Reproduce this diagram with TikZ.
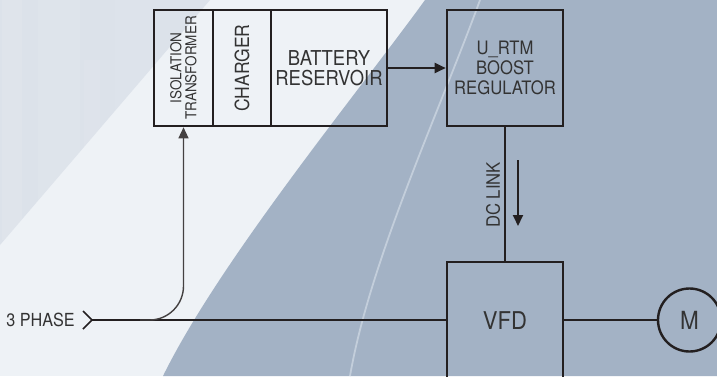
\documentclass[tikz,border=0pt]{standalone}
\usepackage{fontspec}
\setmainfont{TeX Gyre Heros}[FakeStretch=0.9]
\usetikzlibrary{arrows.meta}
\definecolor{bgdark}{HTML}{DCE2EA}
\definecolor{bglight}{HTML}{EEF2F6}
\definecolor{bgblue}{HTML}{A3B2C5}
\definecolor{streak}{HTML}{C3CEDB}
\definecolor{ink}{HTML}{231F20}
\definecolor{txt}{HTML}{333333}
\tikzset{
  cell/.style={draw=ink, line width=2.6pt, inner sep=0pt, minimum width=#1, minimum height=116pt},
  lbl/.style={text=txt, inner sep=0pt, align=center},
  conn/.style={draw=ink, line width=2pt},
  feed/.style={draw=ink!85, line width=1.4pt, -{Triangle[length=11pt,width=10pt]}, rounded corners=34pt},
  arr/.style={draw=ink, line width=1.8pt, -{Triangle[length=11pt,width=10pt]}},
}
\begin{document}
\begin{tikzpicture}[x=1pt,y=-1pt]
\clip (0,0) rectangle (717,376);
% background
\fill[bglight] (0,0) rectangle (717,376);
\fill[bgdark] (0,0) -- (210,0) -- (0,245) -- cycle;
\begin{scope}
\clip (0,0) -- (210,0) -- (0,245) -- cycle;
\fill[white,opacity=0.09] (2,0) rectangle (22,240);
\fill[white,opacity=0.07] (38,0) rectangle (80,200);
\fill[white,opacity=0.06] (84,60) rectangle (100,180);
\fill[white,opacity=0.05] (115,0) rectangle (150,120);
\end{scope}
\fill[bgblue] (425,0) .. controls (360,90) and (220,260) .. (163,376) -- (717,376) -- (717,0) -- cycle;
\draw[streak, line width=1.8pt] (480,0) .. controls (440,110) and (370,260) .. (350,376);
% battery reservoir block
\node[cell=59pt] (iso) at (183.5,68) {};
\node[cell=58pt] (chg) at (242,68) {};
\node[cell=116pt] (bat) at (329,68) {};
\node[lbl, rotate=90, font=\fontsize{15}{15}\selectfont] (isot) at (iso.center) {ISOLATION\\TRANSFORMER};
\node[lbl, rotate=90, font=\fontsize{19.5}{20}\selectfont] (chgt) at (chg.center) {CHARGER};
\node[lbl, font=\fontsize{20.5}{20}\selectfont] (batt) at (bat.center) {BATTERY\\RESERVOIR};
% boost regulator
\node[cell=116pt] (boost) at (505,68) {};
\node[lbl, font=\fontsize{18.5}{20}\selectfont] (boostt) at (505,68) {U\_RTM\\BOOST\\REGULATOR};
% VFD
\node[cell=116pt] (vfd) at (505,320) {};
\node[lbl, font=\fontsize{24.5}{24}\selectfont] (vfdt) at (505,321) {VFD};
% motor
\node[draw=ink, line width=2.4pt, circle, minimum size=63pt, inner sep=0pt] (mot) at (689.5,320) {};
\node[lbl, font=\fontsize{25}{25}\selectfont] (mott) at (mot.center) {M};
% 3 phase input
\node[lbl, anchor=east, font=\fontsize{18}{18}\selectfont] (ph) at (75,320) {3 PHASE};
\coordinate (tip) at (92,320);
\coordinate (cu) at (83,311);
\coordinate (cd) at (83,329);
\draw[ink, line width=1.6pt] (cu) -- (tip) -- (cd);
\coordinate (j) at (140,320);
% connectors
\draw[conn] (tip) -- (vfd.west);
\draw[feed] (j) -| (iso.south);
\draw[conn, -{Triangle[length=11pt,width=10pt]}] (bat.east) -- (boost.west);
\draw[conn, line width=2.2pt] (boost.south) -- (vfd.north);
\draw[conn] (vfd.east) -- (mot.west);
% DC link label and arrow
\node[lbl, rotate=90, font=\fontsize{18.5}{18.5}\selectfont] (dcl) at (493,195) {DC LINK};
\coordinate (a1) at (518,160);
\coordinate (a2) at (518,226);
\draw[arr] (a1) -- (a2);
\end{tikzpicture}
\end{document}
